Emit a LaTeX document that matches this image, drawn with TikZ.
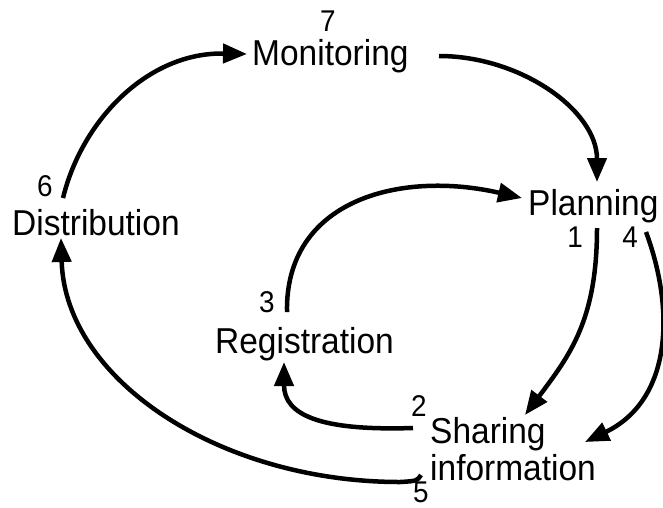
\documentclass[tikz,border=0pt]{standalone}
\usepackage{fontspec}
\setmainfont[FakeStretch=0.93]{Liberation Sans}
\usetikzlibrary{arrows.meta}
\tikzset{
  lbl/.style={inner sep=0pt, anchor=base west, font=\fontsize{36}{37}\selectfont},
  num/.style={inner sep=0pt, anchor=base, font=\fontsize{30}{32}\selectfont},
  flow/.style={line width=4.5pt, -{Triangle[length=24pt,width=19pt]}},
}
\begin{document}
\begin{tikzpicture}[x=1pt,y=-1pt]
\useasboundingbox (0,0) rectangle (663,507);
% labels
\node[lbl] (mon) at (252,65) {Monitoring};
\node[lbl] (dis) at (12,235) {Distribution};
\node[lbl] (pla) at (528,215) {Planning};
\node[lbl] (reg) at (215,353) {Registration};
\node[lbl, align=left, anchor=north west] (sha) at (430,417) {Sharing\\information};
% numbers
\node[num] (n7) at (328,31) {7};
\node[num] (n6) at (45,196) {6};
\node[num] (n1) at (575,247) {1};
\node[num] (n4) at (630,247) {4};
\node[num] (n3) at (267,312) {3};
\node[num] (n2) at (419,416) {2};
\node[num] (n5) at (421,502) {5};
% connector ends
\coordinate (a0) at (63,198);  \coordinate (a1) at (247,54);
\coordinate (b0) at (439,56);  \coordinate (b1) at (597,182);
\coordinate (c0) at (287,312); \coordinate (c1) at (522,198);
\coordinate (d0) at (597,228); \coordinate (d1) at (525,415);
\coordinate (e0) at (646,232); \coordinate (e1) at (585,442);
\coordinate (f0) at (413,428); \coordinate (f1) at (284,362);
\coordinate (g0) at (421,475); \coordinate (g1) at (61,238);
% connectors
\draw[flow] (a0) .. controls (82,120) and (148,52) .. (a1);
\draw[flow] (b0) .. controls (520,56) and (597,110) .. (b1);
\draw[flow] (c0) .. controls (285,200) and (400,170) .. (c1);
\draw[flow] (d0) .. controls (597,320) and (570,355) .. (d1);
\draw[flow] (e0) .. controls (675,310) and (672,400) .. (e1);
\draw[flow] (f0) .. controls (320,431) and (284,415) .. (f1);
\draw[flow] (g0) .. controls (417,481) .. (400,482) .. controls (220,482) and (65,380) .. (g1);
\end{tikzpicture}
\end{document}
